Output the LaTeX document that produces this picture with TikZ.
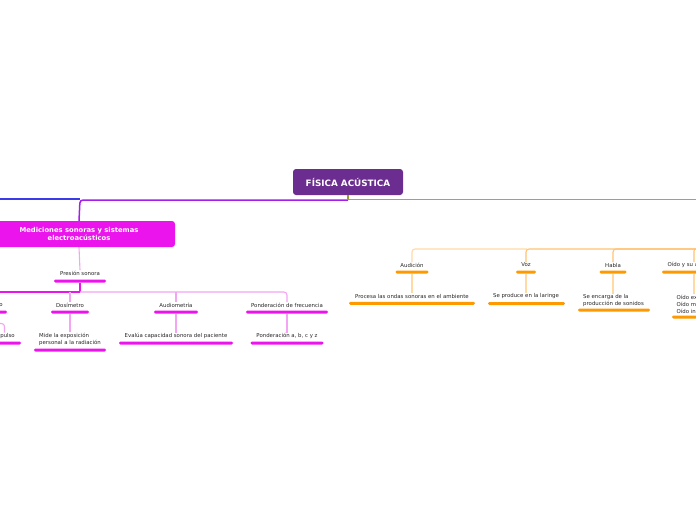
\documentclass[tikz,border=0pt]{standalone}
\usepackage{fontspec}
\setmainfont{DejaVu Sans}
\definecolor{rootc}{RGB}{107,45,144}
\definecolor{magc}{RGB}{236,20,236}
\definecolor{pinkl}{RGB}{243,165,243}
\definecolor{purpl}{RGB}{165,30,235}
\definecolor{bluel}{RGB}{60,60,230}
\definecolor{limec}{RGB}{130,200,0}
\definecolor{olivel}{RGB}{150,160,40}
\definecolor{orgc}{RGB}{255,153,0}
\definecolor{orgl1}{RGB}{255,218,165}
\definecolor{orgl2}{RGB}{255,195,115}
\definecolor{txt}{RGB}{40,40,40}
\begin{document}
\begin{tikzpicture}[x=1pt,y=-1pt,
  rootbox/.style={fill=rootc,rounded corners=3pt,minimum width=110pt,minimum height=26pt,text=white,font=\bfseries\fontsize{8.8}{10}\selectfont,inner sep=0pt},
  medbox/.style={fill=magc,rounded corners=3pt,minimum width=192pt,minimum height=26pt,text=white,font=\bfseries\fontsize{6.8}{8.6}\selectfont,align=center,inner sep=0pt},
  lbl/.style={font=\fontsize{5.4}{7}\selectfont,text=txt,inner sep=0.5pt,align=center},
  lbll/.style={font=\fontsize{5.4}{7}\selectfont,text=txt,inner sep=0.5pt,align=left},
  mbar/.style={fill=magc,rounded corners=1.4pt,minimum height=3pt,inner sep=0pt},
  obar/.style={fill=orgc,rounded corners=1.4pt,minimum height=3pt,inner sep=0pt},
  pline/.style={draw=pinkl,line width=1.1pt},
  mline/.style={draw=magc,line width=1.6pt},
  oline1/.style={draw=orgl1,line width=1.1pt},
  oline2/.style={draw=orgl2,line width=1.1pt},
  mainline/.style={line width=1.5pt}
]
\useasboundingbox (0,0) rectangle (696,520);
\clip (0,0) rectangle (696,520);
\fill[white] (0,0) rectangle (696,520);

% root
\node[rootbox] (root) at (348,182) {FÍSICA ACÚSTICA};
\coordinate (rj) at (348,199.5);
\coordinate (mj) at (80,200);
\coordinate (lw) at (0,199);
\coordinate (re) at (696,199.5);
\draw[bluel,mainline] (lw) -- (mj |- lw);
\fill[limec] ([yshift=0.8pt]rj) rectangle ([yshift=-0.8pt]re);
\node[medbox] (med) at (79,234) {Mediciones sonoras y sistemas\\electroacústicos};
\draw[purpl,mainline,rounded corners=3pt] (rj |- mj) -- (mj) -- (med.north);
\draw[olivel,mainline] (root.south) -- (rj);

% left branch
\node[lbl] (pres) at (80,273) {Presión sonora};
\draw[pline] (med.south) -- (pres.north);
\node[mbar,minimum width=52pt] (pb) at (80,281) {};
\coordinate (hj) at (80,292);
\coordinate (hl) at (0,292);
\draw[mline] (pb.south) -- (hj);
\draw[mline] (hl) -- (hj);

\node[lbl,anchor=east] (son) at (3.5,305) {o};
\node[mbar,minimum width=14pt] (sonb) at (0,312) {};
\node[lbl] (dos) at (70,305) {Dosímetro};
\node[mbar,minimum width=38pt] (dosb) at (70,312) {};
\node[lbl] (aud) at (176,305) {Audiometría};
\node[mbar,minimum width=44pt] (audb) at (176,312) {};
\node[lbl] (pond) at (287,305) {Ponderación de frecuencia};
\node[mbar,minimum width=82pt] (pondb) at (287,312) {};

\draw[pline,rounded corners=3pt] (hj) -| (pond.north);
\draw[pline] (dos.north |- hj) -- (dos.north);
\draw[pline] (aud.north |- hj) -- (aud.north);

\node[lbl,anchor=east] (imp) at (15.5,336) {pulso};
\node[mbar,minimum width=30pt] (impb) at (6,343) {};
\coordinate (ic) at (0,323.5);
\draw[pline,rounded corners=3pt] (ic) -| (imp.north -| 4.5,0);

\node[lbl] (mide) at (70,339.5) {\begin{tabular}{@{}l@{}}Mide la exposición\\personal a la radiación\end{tabular}};
\node[mbar,minimum width=72pt] (mideb) at (70,350) {};
\draw[pline] (dosb.south) -- (mide.north);
\node[lbl] (eval) at (176,336) {Evalúa capacidad sonora del paciente};
\node[mbar,minimum width=114pt] (evalb) at (176,343) {};
\draw[pline] (audb.south) -- (eval.north);
\node[lbl] (pabc) at (287,336) {Ponderación a, b, c y z};
\node[mbar,minimum width=73pt] (pabcb) at (287,343) {};
\draw[pline] (pondb.south) -- (pabc.north);

% right branch
\coordinate (oj) at (696,249);
\coordinate (vj) at (527,249);
\node[lbl] (audi) at (412,265) {Audición};
\node[obar,minimum width=33pt] (audib) at (412,272) {};
\node[lbl] (voz) at (526,265) {Voz};
\node[obar,minimum width=20pt] (vozb) at (526,272) {};
\node[lbl] (habla) at (613,265) {Habla};
\node[obar,minimum width=27pt] (hablab) at (613,272) {};
\node[lbl,anchor=west] (oido) at (667,265) {Oído y su a};
\node[obar,minimum width=40pt] (oidob) at (682,272) {};

\draw[oline1,rounded corners=3pt] (vj) -| (audi.north);
\draw[oline2,rounded corners=3pt] (oj) -| (voz.north);
\draw[oline2,rounded corners=3pt] (oj) -| (habla.north);
\coordinate (oc) at (694,262);
\draw[oline2,rounded corners=2pt] (oj) -| (oc);

\node[lbl] (proc) at (412,296) {Procesa las ondas sonoras en el ambiente};
\node[obar,minimum width=126pt] (procb) at (412,303.3) {};
\draw[oline1] (audib.south) -- (proc.north);
\node[lbl] (prod) at (526,296.5) {Se produce en la laringe};
\node[obar,minimum width=77pt] (prodb) at (526.5,303.5) {};
\draw[oline1] (vozb.south) -- (prod.north);
\node[lbll,anchor=north west] (enc) at (582.5,294) {Se encarga de la\\producción de sonidos};
\node[obar,minimum width=72pt] (encb) at (614,310) {};
\draw[oline1] (hablab.south) -- (hablab.south |- enc.north);
\node[lbll,anchor=north west] (oi) at (676,294) {Oído ex\\Oído m\\Oído in};
\node[obar,minimum width=40pt] (oib) at (692,317) {};
\draw[oline1] (oidob.south -| oc) -- (oc |- oi.north);
\end{tikzpicture}
\end{document}
